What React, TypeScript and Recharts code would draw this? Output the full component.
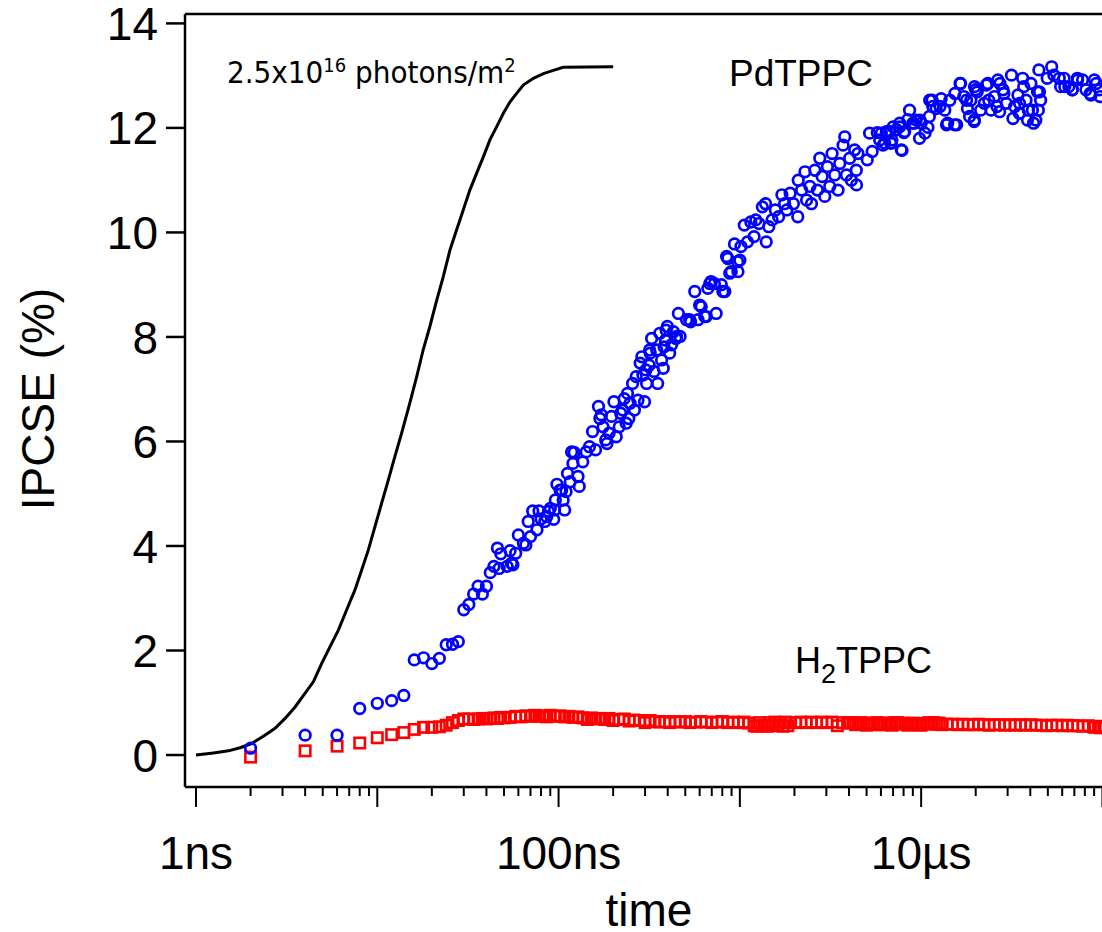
import { ComposedChart, Line, Scatter, XAxis, YAxis, ReferenceLine, Customized } from "recharts";

// integrated excitation pulse (arbitrary units on the IPCSE scale)
const pulse: [number, number][] = [
  [1.0, 0], [1.25, 0.04], [1.51, 0.08], [1.75, 0.14], [2.03, 0.22], [2.4, 0.38], [2.73, 0.51],
  [3.1, 0.7], [3.52, 0.92], [3.99, 1.18], [4.44, 1.4], [4.93, 1.75], [5.48, 2.07], [6.1, 2.39],
  [6.78, 2.78], [7.53, 3.16], [8.2, 3.54], [8.92, 3.92], [9.71, 4.37], [10.57, 4.82], [11.5, 5.26],
  [12.5, 5.71], [13.6, 6.15], [15.1, 6.73], [16.5, 7.24], [17.9, 7.75], [19.5, 8.2], [21.3, 8.71],
  [23.1, 9.15], [25.2, 9.67], [27.4, 10.05], [29.8, 10.43], [32.4, 10.81], [35.3, 11.13],
  [38.5, 11.45], [41.8, 11.77], [45.5, 12.02], [49.6, 12.28], [54, 12.5], [58.7, 12.66],
  [63.9, 12.82], [72.6, 12.95], [82.5, 13.04], [93.6, 13.1], [106, 13.16], [200, 13.17],
];

// PdTPPC: time (ns), IPCSE (%)
const pdTppc: [number, number][] = [
  [2, 0.13], [4, 0.38], [6, 0.38], [8, 0.89], [10, 0.99], [12, 1.04], [14, 1.14], [16, 1.82],
  [18, 1.86], [20, 1.75], [22, 1.85], [24, 2.11], [26, 2.12], [28, 2.17], [30, 2.78], [32, 2.88],
  [34, 3.08], [36, 3.23], [38, 3.08], [40, 3.23], [42, 3.49], [44, 3.61], [46, 3.96], [47, 3.57],
  [48, 3.85], [52, 3.61], [54, 3.91], [55, 3.67], [56, 3.64], [58, 3.86], [60, 4.21], [64, 4.05],
  [66, 4.02], [68, 4.47], [70, 4.18], [72, 4.67], [76, 4.31], [78, 4.67], [80, 4.52], [84, 4.47],
  [86, 4.56], [88, 4.66], [90, 4.72], [94, 4.51], [95, 4.69], [96, 4.88], [98, 5.18], [102, 5.07],
  [104, 5.07], [106, 4.88], [108, 4.69], [110, 5.04], [112, 5.39], [116, 5.23], [118, 5.8],
  [120, 5.58], [122, 5.79], [128, 5.33], [130, 5.14], [136, 5.61], [142, 5.8], [148, 5.9],
  [154, 6.19], [160, 5.84], [166, 6.67], [169, 6.44], [172, 6.51], [176, 6.28], [182, 6.03],
  [185, 5.96], [190, 6.16], [196, 6.48], [202, 6.76], [208, 6.09], [216, 6.28], [220, 6.54],
  [226, 6.6], [230, 6.82], [236, 6.35], [240, 6.92], [244, 6.44], [248, 6.73], [256, 7.11],
  [262, 6.6], [268, 7.24], [274, 6.79], [282, 7.5], [288, 7.62], [292, 7.27], [298, 6.76],
  [303, 7.37], [306, 7.11], [316, 7.46], [318, 7.75], [320, 7.69], [326, 7.97], [336, 7.34],
  [348, 7.75], [352, 7.11], [362, 8.07], [370, 7.56], [378, 7.4], [382, 7.81], [388, 7.94],
  [392, 8.13], [398, 8.2], [410, 7.69], [420, 7.85], [430, 8.1], [444, 7.97], [448, 8.01],
  [458, 8.45], [468, 8.01], [508, 8.33], [528, 8.33], [535, 8.29], [564, 8.87], [588, 8.33],
  [600, 8.61], [612, 8.58], [640, 8.39], [652, 8.39], [666, 8.93], [682, 9.02], [694, 9.06],
  [724, 9.02], [740, 8.45], [790, 9.0], [806, 8.87], [826, 8.87], [845, 9.54], [858, 9.5],
  [880, 9.22], [896, 9.25], [934, 9.78], [972, 9.44], [976, 9.25], [1000, 9.47], [1014, 9.73],
  [1058, 10.14], [1102, 9.82], [1150, 10.2], [1198, 9.92], [1224, 10.24], [1274, 10.17],
  [1330, 10.49], [1386, 10.55], [1398, 9.82], [1444, 10.11], [1506, 10.24], [1570, 10.43],
  [1636, 10.3], [1706, 10.72], [1766, 10.55], [1816, 10.43], [1894, 10.75], [1974, 10.55],
  [2086, 10.3], [2100, 11.0], [2192, 10.81], [2286, 11.16], [2334, 10.62], [2434, 10.88],
  [2484, 10.55], [2592, 11.19], [2680, 10.81], [2760, 11.42], [2844, 11.07], [2940, 10.69],
  [3040, 11.26], [3132, 10.88], [3226, 11.51], [3336, 11.1], [3480, 10.81], [3556, 11.32],
  [3710, 11.67], [3790, 11.83], [3870, 11.1], [4036, 11.42], [4120, 11.0], [4298, 11.58],
  [4388, 11.19], [4400, 10.91], [4480, 11.51], [5044, 11.39], [5198, 11.9], [5370, 11.55],
  [5728, 11.91], [5908, 11.77], [6030, 11.9], [6164, 11.67], [6296, 11.71], [6430, 11.93],
  [6710, 11.93], [6800, 11.71], [6850, 11.71], [6900, 11.77], [7004, 12.02], [7304, 11.97],
  [7600, 12.02], [7616, 12.09], [7770, 11.58], [7840, 11.57], [8036, 11.91], [8108, 11.93],
  [8456, 12.16], [8634, 12.34], [9004, 12.09], [9120, 12.09], [9390, 12.15], [9796, 11.8],
  [9850, 12.15], [9996, 12.09], [10500, 11.9], [10900, 12.01], [11100, 12.22], [11150, 12.53],
  [11500, 12.53], [11600, 12.41], [12100, 12.37], [12700, 12.41], [12900, 12.56], [13500, 12.34],
  [13800, 12.06], [14000, 12.09], [14400, 12.53], [15300, 12.06], [15350, 12.66], [15700, 12.06],
  [16400, 12.85], [16500, 12.85], [17200, 12.6], [17800, 12.53], [18000, 12.37], [18500, 12.22],
  [18800, 12.53], [19600, 12.12], [19650, 12.15], [19700, 12.79], [20000, 12.73], [20400, 12.69],
  [21300, 12.34], [22300, 12.47], [22900, 12.82], [23300, 12.85], [23600, 12.53], [24300, 12.34],
  [25400, 12.6], [26200, 12.41], [26500, 12.92], [27100, 12.31], [27200, 12.85], [28300, 12.73],
  [28600, 12.66], [29500, 12.47], [31500, 13.01], [32100, 12.18], [32800, 12.41], [34200, 12.63],
  [34800, 12.28], [34900, 12.47], [36300, 12.95], [36800, 12.79], [37900, 12.53], [38600, 12.15],
  [39000, 12.34], [40300, 12.85], [41100, 12.34], [41700, 12.09], [42900, 12.15], [43800, 12.69],
  [44300, 12.34], [44600, 13.11], [45000, 12.69], [45600, 12.53], [49600, 12.95], [52500, 13.17],
  [54000, 13.01], [57800, 12.95], [58800, 12.79], [61400, 12.95], [62000, 12.79], [65300, 12.79],
  [68200, 12.73], [68300, 12.73], [72800, 12.95], [73000, 12.92], [77700, 12.92], [81100, 12.73],
  [85500, 12.66], [86500, 12.63], [90300, 12.92], [92500, 12.85], [96400, 12.73], [97000, 12.6],
];

// H2TPPC: time (ns), IPCSE (%)
const h2Tppc: [number, number][] = [
  [2, -0.04], [4, 0.08], [6, 0.17], [8, 0.23], [10, 0.33], [12, 0.39], [14, 0.43], [16, 0.49],
  [18, 0.53], [20, 0.53], [22, 0.54], [24, 0.57], [26, 0.62], [28, 0.66], [30, 0.69], [32, 0.69],
  [34, 0.68], [36, 0.69], [38, 0.7], [40, 0.69], [42, 0.7], [44, 0.71], [46, 0.7], [48, 0.72],
  [50, 0.71], [54, 0.72], [58, 0.74], [62, 0.73], [66, 0.75], [70, 0.74], [74, 0.76], [78, 0.74],
  [82, 0.75], [86, 0.73], [90, 0.76], [96, 0.74], [102, 0.75], [108, 0.73], [114, 0.74],
  [120, 0.72], [128, 0.73], [136, 0.71], [144, 0.68], [152, 0.71], [160, 0.69], [170, 0.7],
  [180, 0.68], [190, 0.7], [200, 0.66], [215, 0.68], [230, 0.69], [245, 0.65], [260, 0.67],
  [280, 0.66], [300, 0.62], [320, 0.66], [340, 0.64], [360, 0.63], [385, 0.64], [410, 0.62],
  [440, 0.64], [470, 0.63], [500, 0.64], [530, 0.62], [570, 0.63], [610, 0.64], [650, 0.63],
  [700, 0.62], [750, 0.63], [800, 0.64], [860, 0.62], [920, 0.63], [980, 0.62], [1050, 0.63],
  [1120, 0.61], [1200, 0.56], [1240, 0.55], [1280, 0.62], [1320, 0.56], [1370, 0.57],
  [1420, 0.55], [1460, 0.62], [1510, 0.56], [1560, 0.63], [1620, 0.57], [1670, 0.62],
  [1730, 0.55], [1780, 0.63], [1840, 0.56], [1900, 0.62], [2030, 0.62], [2170, 0.63],
  [2320, 0.62], [2480, 0.63], [2650, 0.62], [2830, 0.63], [3020, 0.62], [3230, 0.63],
  [3450, 0.56], [3690, 0.62], [3940, 0.61], [4050, 0.62], [4210, 0.62], [4350, 0.58], [4500, 0.6],
  [4650, 0.62], [4810, 0.61], [5000, 0.57], [5140, 0.59], [5300, 0.61], [5490, 0.6], [5700, 0.62],
  [5870, 0.58], [6050, 0.58], [6270, 0.61], [6480, 0.61], [6700, 0.6], [6900, 0.57], [7160, 0.62],
  [7400, 0.62], [7650, 0.59], [7900, 0.61], [8180, 0.6], [8450, 0.57], [8740, 0.59], [9050, 0.61],
  [9340, 0.6], [9650, 0.58], [9980, 0.57], [10300, 0.6], [10700, 0.6], [11000, 0.62],
  [11400, 0.59], [11800, 0.62], [12200, 0.59], [12600, 0.61], [13000, 0.58], [13900, 0.59],
  [14900, 0.59], [15900, 0.58], [17000, 0.59], [18200, 0.58], [19400, 0.58], [20700, 0.59],
  [22200, 0.58], [23700, 0.57], [25300, 0.58], [27000, 0.58], [28900, 0.57], [30900, 0.58],
  [33000, 0.57], [35300, 0.58], [37700, 0.57], [40300, 0.58], [43000, 0.57], [46000, 0.57],
  [49200, 0.56], [52500, 0.57], [56100, 0.57], [60000, 0.56], [64100, 0.57], [68500, 0.56],
  [73200, 0.56], [78200, 0.55], [83600, 0.56], [89300, 0.54], [91000, 0.53], [95400, 0.55],
  [98000, 0.52], [102000, 0.54],
];

// log time axis, ns
const decades = [1, 10, 100, 1000, 10000, 100000];
const minorSteps = [2, 3, 4, 5, 6, 7, 8, 9];
const timeTicks = decades.flatMap((d) => [d, ...minorSteps.map((m) => m * d)]).filter((t) => t <= 200000);
const timeLabels: Record<number, string> = { 1: "1ns", 100: "100ns", 10000: "10µs" };
const ipcseTicks = [0, 2, 4, 6, 8, 10, 12, 14];

const X_DOMAIN: [number, number] = [0.8696, 200000];
const Y_DOMAIN: [number, number] = [-0.612, 14.18];

const FONT = "'Liberation Sans', Arial, Helvetica, sans-serif";
const toRows = (pts: [number, number][]) => pts.map(([t, v]) => ({ t, v }));

const TimeTick = (props: any) => {
  const { x, y, payload } = props;
  const t = payload.value as number;
  const major = decades.includes(t);
  const label = timeLabels[t];
  return (
    <g>
      <line x1={x} x2={x} y1={y} y2={y + (major ? 20 : 9)} stroke="#000" strokeWidth={2} />
      {label && (
        <text x={x} y={y + 82} textAnchor="middle" fontSize={46} fontFamily={FONT} fill="#000">
          {label}
        </text>
      )}
    </g>
  );
};

const IpcseTick = (props: any) => {
  const { x, y, payload } = props;
  return (
    <g>
      <line x1={x - 19} x2={x} y1={y} y2={y} stroke="#000" strokeWidth={2.5} />
      <text x={x - 27} y={y} dy="0.36em" textAnchor="end" fontSize={46} fontFamily={FONT} fill="#000">
        {payload.value}
      </text>
    </g>
  );
};

const Circle = (props: any) => (
  <circle cx={props.cx} cy={props.cy} r={5.3} fill="none" stroke="#0000ff" strokeWidth={2.7} />
);

const Square = (props: any) => (
  <rect x={props.cx - 5.2} y={props.cy - 5.2} width={10.4} height={10.4} fill="none" stroke="#ff0000" strokeWidth={2.6} />
);

const Annotations = () => (
  <g fill="#000">
    <text x={227} y={83} fontSize={31} fontFamily="'DejaVu Sans Condensed', 'DejaVu Sans', sans-serif">
      2.5x10
      <tspan dy={-11} fontSize={20}>16</tspan>
      <tspan dy={11} fontSize={31}> photons/m</tspan>
      <tspan dy={-11} fontSize={20}>2</tspan>
    </text>
    <text x={729} y={86} fontSize={37} fontFamily={FONT}>PdTPPC</text>
    <text x={795} y={673} fontSize={36} fontFamily={FONT}>
      H<tspan dy={10} fontSize={27}>2</tspan>
      <tspan dy={-10} fontSize={36}>TPPC</tspan>
    </text>
    <text x={649} y={926} textAnchor="middle" fontSize={46} fontFamily={FONT}>time</text>
    <text transform="translate(54,399) rotate(-90)" textAnchor="middle" fontSize={46} fontFamily={FONT}>
      IPCSE (%)
    </text>
  </g>
);

export default function App() {
  return (
    <div style={{ width: 1102, height: 932, overflow: "hidden", background: "#fff" }}>
      <style>{"body{margin:0}"}</style>
      <ComposedChart width={1170} height={932} margin={{ top: 14, right: 13, bottom: 0, left: 0 }}>
        <XAxis
          type="number"
          dataKey="t"
          scale="log"
          domain={X_DOMAIN}
          allowDataOverflow
          ticks={timeTicks}
          interval={0}
          height={145}
          tickSize={0}
          tickMargin={0}
          tickLine={false}
          tick={<TimeTick />}
          axisLine={{ stroke: "#000", strokeWidth: 2.5 }}
        />
        <YAxis
          type="number"
          domain={Y_DOMAIN}
          allowDataOverflow
          ticks={ipcseTicks}
          interval={0}
          width={185}
          tickSize={0}
          tickMargin={0}
          tickLine={false}
          tick={<IpcseTick />}
          axisLine={{ stroke: "#000", strokeWidth: 2.5 }}
        />
        <ReferenceLine y={Y_DOMAIN[1]} stroke="#000" strokeWidth={2.5} />
        <Line
          data={toRows(pulse)}
          dataKey="v"
          type="linear"
          stroke="#000"
          strokeWidth={3}
          strokeLinejoin="miter"
          dot={false}
          activeDot={false}
          isAnimationActive={false}
        />
        <Scatter data={toRows(h2Tppc)} dataKey="v" shape={<Square />} isAnimationActive={false} />
        <Scatter data={toRows(pdTppc)} dataKey="v" shape={<Circle />} isAnimationActive={false} />
        <Customized component={<Annotations />} />
      </ComposedChart>
    </div>
  );
}
